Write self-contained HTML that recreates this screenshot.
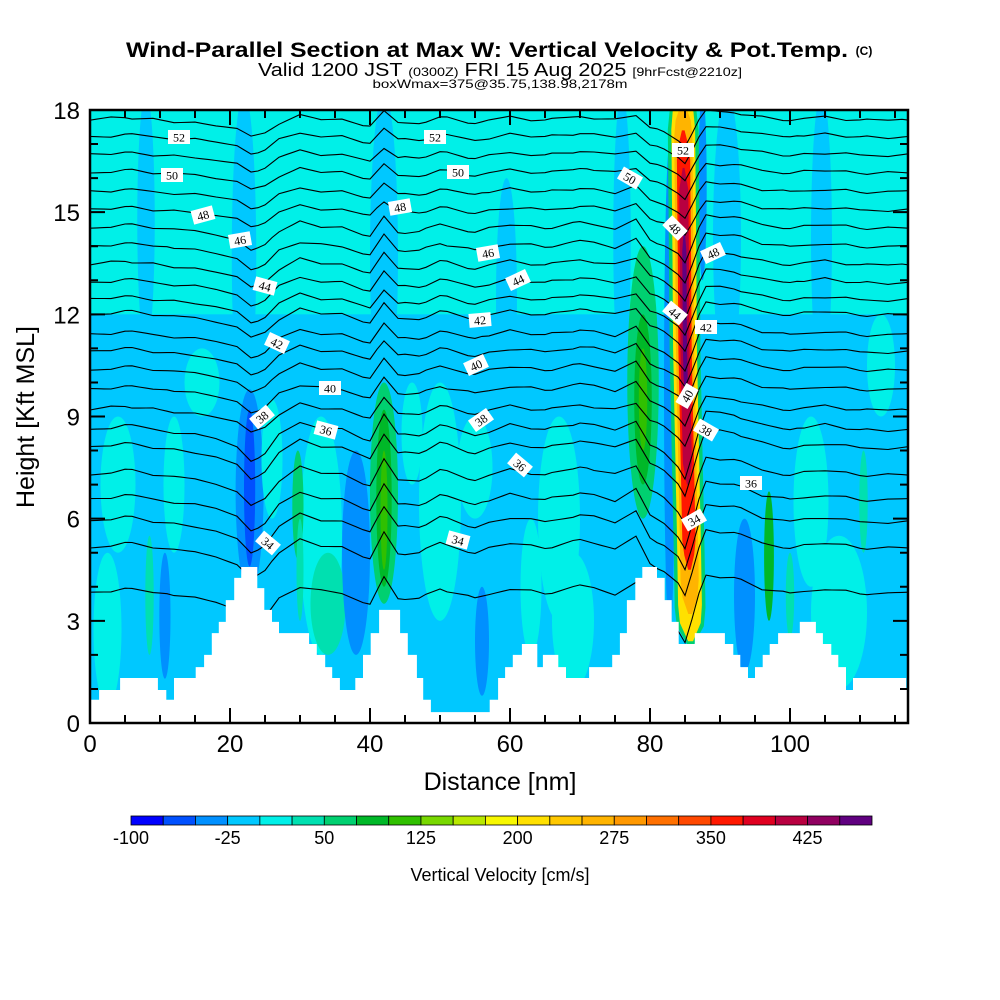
<!DOCTYPE html>
<html><head><meta charset="utf-8"><style>
html,body{margin:0;padding:0;background:#fff;}
svg{display:block;font-family:"Liberation Sans",sans-serif;}
</style></head><body>
<svg id="chart" width="1000" height="1000" viewBox="0 0 1000 1000">
<defs><clipPath id="pc"><rect x="90" y="110" width="818" height="613"/></clipPath></defs>
<g>
<text x="487" y="57" text-anchor="middle" font-size="21" font-weight="bold" textLength="722" lengthAdjust="spacingAndGlyphs">Wind-Parallel Section at Max W: Vertical Velocity &amp; Pot.Temp.</text>
<text x="864" y="55" text-anchor="middle" font-size="12" font-weight="bold">(C)</text>
<text x="500" y="76" text-anchor="middle" font-size="18" textLength="484" lengthAdjust="spacingAndGlyphs">Valid 1200 JST <tspan font-size="12">(0300Z)</tspan> FRI 15 Aug 2025 <tspan font-size="12">[9hrFcst@2210z]</tspan></text>
<text x="500" y="88" text-anchor="middle" font-size="12" textLength="255" lengthAdjust="spacingAndGlyphs">boxWmax=375@35.75,138.98,2178m</text>
</g>
<g id="plot" clip-path="url(#pc)"></g>
<g id="labels"></g>
<g id="axes"></g>
<g id="cbar"></g>
<text x="500" y="790" text-anchor="middle" font-size="25">Distance [nm]</text>
<text transform="translate(34,417) rotate(-90)" text-anchor="middle" font-size="25">Height [Kft MSL]</text>
<text x="500" y="881" text-anchor="middle" font-size="18">Vertical Velocity [cm/s]</text>
</svg>
<script>
// ---- data ----
const cbColors=["#0000ff","#0050ff","#0090ff","#00c8ff","#00f0e8","#00e0b0","#00d070","#00b828","#30c000","#78d800","#b8e800","#f8f800","#ffe000","#ffc800","#ffb400","#ff9800","#ff7000","#ff4800","#ff1800","#e00020","#b80040","#900060","#600080"];
const cbTicks=[-100,-25,50,125,200,275,350,425];
const xTicks=[0,20,40,60,80,100];
const yTicks=[0,3,6,9,12,15,18];
// terrain steps: start distance (nm) and height (kft)
const terrX=[0,1.3,4.3,9.7,10.9,12,15.1,16.3,17.4,18.4,19.4,20.6,21.6,23.9,24.9,26,27,31.3,32.4,33.6,34.6,35.7,37.9,39,40.1,41.3,44.3,45.4,46.7,47.6,48.7,57.1,58.3,59.3,60.4,61.7,63.9,64.7,66.9,68,71.3,74.6,75.7,76.7,77.9,78.9,81,82.1,83.1,84.1,86.4,90.7,91.9,92.9,94,95,96.1,97.1,98.3,101.4,103.7,104.7,105.9,106.9,108,109,116.6];
const terrH=[0.68,0.97,1.32,0.97,0.68,1.32,1.64,2.0,2.64,2.97,3.61,4.26,4.58,3.96,3.32,2.97,2.64,2.32,2.0,1.64,1.32,0.97,1.32,2.0,2.64,3.32,2.64,2.0,1.32,0.68,0.32,0.68,1.32,1.64,2.0,2.32,1.64,2.0,1.64,1.32,1.64,2.0,2.64,3.61,4.26,4.58,4.26,3.61,2.97,2.32,2.64,2.32,2.0,1.64,1.32,1.64,2.0,2.32,2.64,2.97,2.64,2.32,2.0,1.64,0.97,1.32,0.97];
// vertical-velocity streaks: center nm, width nm, bottom kft, top kft, value cm/s
const stX=[4,16,33,50,67,103,8,22,42,59.5,76,91,104.5,2.5,34,69,107,55,22.8,22.8,10.7,38,56,82.8,87.5,93.5,42,42,42,79,79,79,29.7,97,110.5,8.5,30,100,12,26,46,63,113];
const stW=[5,5,6,6,6,5,2.5,3.5,4,3,2.5,4,3,4,5,6,8,5,4,1.6,1.6,4,2,1.6,1.2,3,4,2.2,1.0,4.5,2.5,1.2,1.6,1.4,1.2,1.2,1.0,1.2,3,3,3,3,4];
const stY0=[5,9,2,3,3,4,11,9,9,9,10,10,10,0.5,2,1,1,6,3.8,4.6,1.3,2,0.8,2.5,13,1.5,3.5,4,4.5,6,7,8,4.8,3,5,2,3,2.5,5,6,7,2,9];
const stY1=[9,11,9,10,9,9,18.5,18.5,18.5,16,18.5,18.5,18.5,5,5,5,5.5,9,9.8,9.2,5,8,4,17,18.5,6,10,9.2,8,14,12,11,8,6.8,8,5.5,6,5,9,9.5,10,6,12];
const stV=[10,10,10,10,10,10,-10,-10,-10,-10,-10,-10,-10,10,30,10,10,10,-40,-65,-40,-40,-40,-40,-40,-40,55,80,105,55,80,105,55,80,30,30,30,30,10,10,10,10,10];
// jet of strong ascent: layers (width nm, bottom kft, top kft, value)
const jetW=[4.4,3.4,2.6,1.9,1.3,0.6];
const jetB=[2.3,2.4,3.2,4.5,7.0,9.5];
const jetT=[18.5,18.5,18.2,17.4,16.3,14.5];
const jetV=[60,205,260,360,410,460];
const jetPathK=[2.4,5,8,11,14,18.5];
const jetPathX=[85.8,85.6,85.3,85.0,84.9,84.7];
// potential-temperature contour base heights (kft) at left edge
const thK=[17.70,17.20,16.67,16.15,15.59,15.06,14.53,13.98,13.45,12.92,12.42,11.98,11.39,10.89,10.36,9.78,9.19,8.60,8.07,7.28,6.55,5.90,5.14,3.80];
// shared perturbation of contours (kft) vs distance
const pX=[0,5,10,15,18,21,23,25,27,30,33,36,40,42,44,47,50,55,60,65,70,75,78,80,82,84,85.2,86.5,88,92,96,100,105,110,117];
const pK=[0,0.1,0,-0.1,-0.15,-0.35,-0.6,-0.45,-0.1,0.15,0.05,0,-0.2,0.3,-0.1,-0.1,0.1,-0.1,0.1,0,0.15,0,0.2,-0.3,-0.45,-0.7,-1.0,-0.2,0.35,0.3,0.1,0,0.1,0,0];
const wig=[0,0.12,-0.08,0.1,-0.1,0.06,-0.12,0.1,0,-0.1,0.12,-0.06,0.08,-0.1,0.1,0,-0.08,0.12,-0.1,0.06,0.1,-0.12,0.08,0,-0.1,0.1,-0.06,0.12,-0.1,0.08,0,-0.1,0.1,-0.08,0.06,0.1,-0.1,0.08,0,0.1];
// contour labels: text, x px, y px, rotation
const labT=["52","52","52","50","50","50","48","48","48","48","46","46","44","44","44","42","42","42","40","40","40","38","38","38","36","36","36","34","34","34"];
const labX=[179,435,683,172,458,630,203,400,675,713,240,488,265,518,675,277,480,706,330,476,687,262,481,706,326,520,751,268,458,694];
const labY=[137,137,150,175,172,178,215,207,228,253,240,253,286,280,313,343,320,327,388,365,396,417,420,430,430,465,483,543,540,520];
const labR=[0,0,0,0,0,30,-15,-10,45,-25,-10,-10,15,-25,40,25,-5,0,0,-25,-60,-40,-35,30,15,40,0,40,15,-30];

// ---- scales ----
const XMAX=116.86;
const X=nm=>90+nm*7;
const Y=k=>723-k*34.056;
const col=v=>cbColors[Math.max(0,Math.min(22,Math.floor((v+100)/25)))];
const NS="http://www.w3.org/2000/svg";
function mk(tag,attrs,parent){const e=document.createElementNS(NS,tag);for(const k in attrs)e.setAttribute(k,attrs[k]);parent.appendChild(e);return e;}
function interp(xs,ys,x){if(x<=xs[0])return ys[0];for(let i=1;i<xs.length;i++){if(x<=xs[i]){const t=(x-xs[i-1])/(xs[i]-xs[i-1]);return ys[i-1]+t*(ys[i]-ys[i-1]);}}return ys[ys.length-1];}
const wigX=wig.map((_,i)=>i*3);

const plot=document.getElementById('plot');
let e=mk('rect',{x:90,y:110,width:818,height:613,fill:col(-10)},plot);


e=mk('rect',{x:90,y:Y(18.5),width:818,height:Y(12)-Y(18.5),fill:col(10)},plot);


for(let i=0;i<stX.length;i++){
  const cx=X(stX[i]),rx=stW[i]*3.5,y0=Y(stY1[i]),y1=Y(stY0[i]);
  e=mk('ellipse',{cx:cx,cy:(y0+y1)/2,rx:rx,ry:(y1-y0)/2,fill:col(stV[i])},plot);
  
  
}
for(let j=0;j<jetW.length;j++){
  const left=[],right=[];
  const n=30;
  for(let s=0;s<=n;s++){
    const k=jetB[j]+(jetT[j]-jetB[j])*s/n;
    const taper=Math.min(1,(k-jetB[j])/0.8+0.2,(jetT[j]-k)/0.8+0.2);
    const hw=jetW[j]/2*Math.max(0.2,taper);
    const cx=interp(jetPathK,jetPathX,k);
    left.push(X(cx-hw).toFixed(1)+","+Y(k).toFixed(1));
    right.unshift(X(cx+hw).toFixed(1)+","+Y(k).toFixed(1));
  }
  e=mk('polygon',{points:left.concat(right).join(" "),fill:col(jetV[j])},plot);
  
  
}
for(let c=0;c<thK.length;c++){
  const amp=thK[c]<9?1.5:(thK[c]>15?0.8:1.1);
  const sh=(c*5)%wig.length;
  let d="";
  for(let s=0;s<=117;s++){
    const nm=s;
    const wi=0.4*interp(wigX,wig,(nm+sh*3)%117);
    const k=thK[c]+amp*interp(pX,pK,nm)+wi;
    d+=(s?"L":"M")+X(nm).toFixed(1)+","+Y(k).toFixed(1);
  }
  e=mk('path',{d:d,fill:"none",stroke:"#000","stroke-width":1.1},plot);
  
  
}
let td="M"+X(0)+","+Y(-1);
for(let i=0;i<terrX.length;i++){
  const x1=i+1<terrX.length?terrX[i+1]:XMAX+1;
  td+="L"+X(terrX[i]).toFixed(1)+","+Y(terrH[i]).toFixed(1)+"L"+X(x1).toFixed(1)+","+Y(terrH[i]).toFixed(1);
}
td+="L"+X(XMAX+1)+","+Y(-1)+"Z";
e=mk('path',{d:td,fill:"#fff"},plot);


const lg=document.getElementById('labels');
for(let i=0;i<labT.length;i++){
  const g=mk('g',{transform:`translate(${labX[i]},${labY[i]}) rotate(${labR[i]})`},lg);
  
  
  mk('rect',{x:-11,y:-7,width:22,height:14,fill:"#fff"},g);
  const t=mk('text',{x:0,y:4.5,"text-anchor":"middle","font-size":12,"font-family":"Liberation Serif, serif"},g);
  t.textContent=labT[i];
}
const ax=document.getElementById('axes');
e=mk('rect',{x:90,y:110,width:818,height:613,fill:"none",stroke:"#000","stroke-width":2.5},ax);


let tk="";
for(let nm=0;nm<=XMAX;nm+=5){const x=X(nm),L=(nm%20===0)?15:8;tk+=`M${x},723v${-L}M${x},110v${L}`;}
for(let k=0;k<=18;k+=1){const y=Y(k),L=(k%3===0)?15:8;tk+=`M90,${y}h${L}M908,${y}h${-L}`;}
e=mk('path',{d:tk,stroke:"#000","stroke-width":2,fill:"none"},ax);


xTicks.forEach(v=>{const t=mk('text',{x:X(v),y:752,"text-anchor":"middle","font-size":24},ax);t.textContent=v;
  
  });
yTicks.forEach(v=>{const t=mk('text',{x:80,y:Y(v)+9,"text-anchor":"end","font-size":24},ax);t.textContent=v;
  
  });
const cb=document.getElementById('cbar');
const cbx0=131,cbw=741/23;
cbColors.forEach((c,i)=>{e=mk('rect',{x:cbx0+i*cbw,y:816,width:cbw,height:9,fill:c,stroke:"#000","stroke-width":0.8},cb);
  
  });
cbTicks.forEach(v=>{const i=(v+100)/25;const t=mk('text',{x:cbx0+i*cbw,y:844,"text-anchor":"middle","font-size":18},cb);t.textContent=v;
  
  });
</script>
</body></html>
